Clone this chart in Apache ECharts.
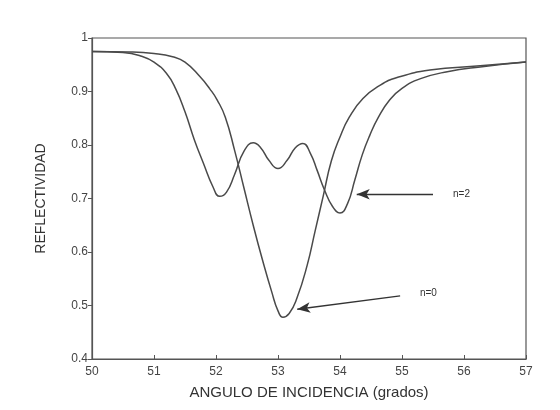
<!DOCTYPE html>
<html>
<head>
<meta charset="utf-8">
<script src="https://cdn.jsdelivr.net/npm/echarts@6/dist/echarts.min.js"></script>
<style>html,body{margin:0;padding:0;background:#fff}#c{width:560px;height:410px}</style>
</head>
<body>
<div id="c"></div>
<script>
var xTicks = [50, 51, 52, 53, 54, 55, 56, 57];
var yTicks = [0.4, 0.5, 0.6, 0.7, 0.8, 0.9, 1];
var seriesNames = ['n=2', 'n=0'];
var n2Angle = [50, 50.5, 50.8, 51.0, 51.2, 51.35, 51.5, 51.65, 51.8, 51.95, 52.06, 52.17, 52.3, 52.45, 52.6, 52.72, 52.85, 53.0, 53.15, 53.28, 53.4, 53.52, 53.63, 53.75, 53.88, 54.0, 54.12, 54.24, 54.36, 54.48, 54.62, 54.8, 55.0, 55.3, 55.73, 56.26, 57];
var n2Refl = [0.975, 0.973, 0.966, 0.955, 0.934, 0.905, 0.862, 0.81, 0.765, 0.722, 0.704, 0.712, 0.745, 0.788, 0.804, 0.795, 0.772, 0.756, 0.772, 0.795, 0.803, 0.785, 0.753, 0.716, 0.685, 0.673, 0.69, 0.735, 0.782, 0.818, 0.852, 0.884, 0.906, 0.924, 0.937, 0.946, 0.955];
var n0Angle = [50, 50.6, 51.0, 51.3, 51.5, 51.74, 51.9, 52.02, 52.15, 52.3, 52.45, 52.6, 52.75, 52.9, 53.0, 53.08, 53.18, 53.3, 53.47, 53.6, 53.73, 53.86, 54.0, 54.15, 54.37, 54.65, 54.92, 55.45, 56.26, 57];
var n0Refl = [0.975, 0.974, 0.971, 0.965, 0.955, 0.928, 0.905, 0.884, 0.852, 0.79, 0.72, 0.65, 0.585, 0.525, 0.49, 0.478, 0.485, 0.512, 0.575, 0.64, 0.705, 0.77, 0.815, 0.852, 0.887, 0.912, 0.926, 0.94, 0.948, 0.955];
// arrow annotations: [label, tail x, tail y, head x, head y]
var arrowN2 = ['n=2', 55.5, 0.708, 54.27, 0.708];
var arrowN0 = ['n=0', 54.97, 0.518, 53.31, 0.493];

function pairs(xs, ys) { return xs.map(function (x, i) { return [x, ys[i]]; }); }
function arrow(a) {
  return [
    { coord: [a[1], a[2]], symbol: 'none', label: { show: true, position: 'start', formatter: a[0], distance: 20 } },
    { coord: [a[3], a[4]], symbol: 'arrow', symbolSize: [8, 13] }
  ];
}

var lineColor = '#4a4a4a';
var chart = echarts.init(document.getElementById('c'), null, { renderer: 'canvas' });
chart.setOption({
  backgroundColor: '#fff',
  animation: false,
  grid: { left: 92, right: 34, top: 38, bottom: 51, show: true, borderColor: '#555', borderWidth: 1.2, backgroundColor: 'transparent' },
  xAxis: {
    type: 'value', min: xTicks[0], max: xTicks[xTicks.length - 1], interval: 1,
    name: 'ANGULO DE INCIDENCIA (grados)', nameLocation: 'middle', nameGap: 26,
    nameTextStyle: { fontFamily: 'Liberation Sans', fontSize: 15, color: '#333' },
    axisLine: { lineStyle: { color: '#555', width: 1.2 } },
    axisTick: { inside: true, length: 4, lineStyle: { color: '#555' } },
    axisLabel: { fontFamily: 'Liberation Sans', fontSize: 12, color: '#444', margin: 7 },
    splitLine: { show: false }
  },
  yAxis: {
    type: 'value', min: yTicks[0], max: yTicks[yTicks.length - 1], interval: 0.1,
    name: 'REFLECTIVIDAD', nameLocation: 'middle', nameGap: 44,
    nameTextStyle: { fontFamily: 'Liberation Sans', fontSize: 14, color: '#333' },
    axisLine: { lineStyle: { color: '#555', width: 1.2 } },
    axisTick: { show: true, length: 4, lineStyle: { color: '#555' } },
    axisLabel: { fontFamily: 'Liberation Sans', fontSize: 12, color: '#444', margin: 4,
      formatter: function (v) { return (Math.round(v * 10) / 10).toString(); } },
    splitLine: { show: false }
  },
  series: [
    {
      name: seriesNames[0], type: 'line', data: pairs(n2Angle, n2Refl), smooth: 0.5, showSymbol: false,
      lineStyle: { color: lineColor, width: 1.5 },
      markLine: {
        silent: true, animation: false,
        lineStyle: { color: '#333', width: 1.3, type: 'solid' },
        label: { fontFamily: 'Liberation Sans', fontSize: 10, color: '#333' },
        data: [arrow(arrowN2), arrow(arrowN0)]
      }
    },
    {
      name: seriesNames[1], type: 'line', data: pairs(n0Angle, n0Refl), smooth: 0.5, showSymbol: false,
      lineStyle: { color: lineColor, width: 1.5 }
    }
  ]
});
</script>
</body>
</html>
